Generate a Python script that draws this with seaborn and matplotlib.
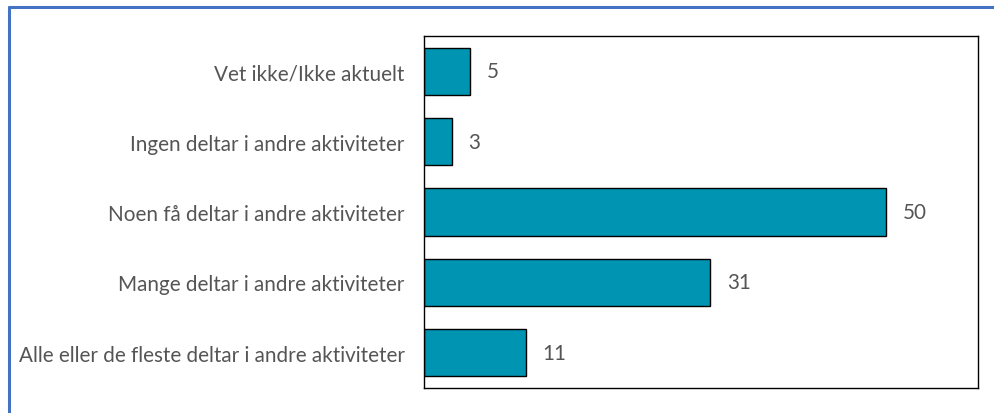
import matplotlib
matplotlib.use("Agg")
import matplotlib.pyplot as plt
import seaborn as sns
import pandas as pd
from matplotlib.lines import Line2D

categories = [
    "Vet ikke/Ikke aktuelt",
    "Ingen deltar i andre aktiviteter",
    "Noen få deltar i andre aktiviteter",
    "Mange deltar i andre aktiviteter",
    "Alle eller de fleste deltar i andre aktiviteter",
]
values = [5, 3, 50, 31, 11]

df = pd.DataFrame({"kategori": categories, "andel": values})

sns.set_style("white")
plt.rcParams["font.family"] = ["Lato", "DejaVu Sans"]

W, H = 994, 414
fig = plt.figure(figsize=(W / 100, H / 100), dpi=100)
ax = fig.add_axes([424 / W, 1 - 389 / H, (978 - 424) / W, (389 - 37) / H])

sns.barplot(data=df, x="andel", y="kategori", color="#0094B3", saturation=1,
            edgecolor="black", linewidth=1.0, width=0.67, ax=ax)

ax.set_xlim(0, 60)
ax.set_ylim(4.5, -0.5)
ax.set_xlabel("")
ax.set_ylabel("")
ax.set_xticks([])
ax.tick_params(axis="y", length=0, pad=14, labelsize=14.9, labelcolor="#555555")
for s in ax.spines.values():
    s.set_visible(True)
    s.set_color("black")
    s.set_linewidth(1.0)

for c in ax.containers:
    ax.bar_label(c, labels=[str(v) for v in values], padding=12,
                 fontsize=14.9, color="#555555")

# blue frame around the figure
blue = "#4472C4"
fig.add_artist(Line2D([9 / W, 9 / W], [0, 1 - 8 / H], color=blue, lw=2.2,
                      transform=fig.transFigure))
fig.add_artist(Line2D([9 / W, 1], [1 - 8 / H, 1 - 8 / H], color=blue, lw=2.2,
                      transform=fig.transFigure))

fig.savefig("out.png", dpi=100, facecolor="white")
